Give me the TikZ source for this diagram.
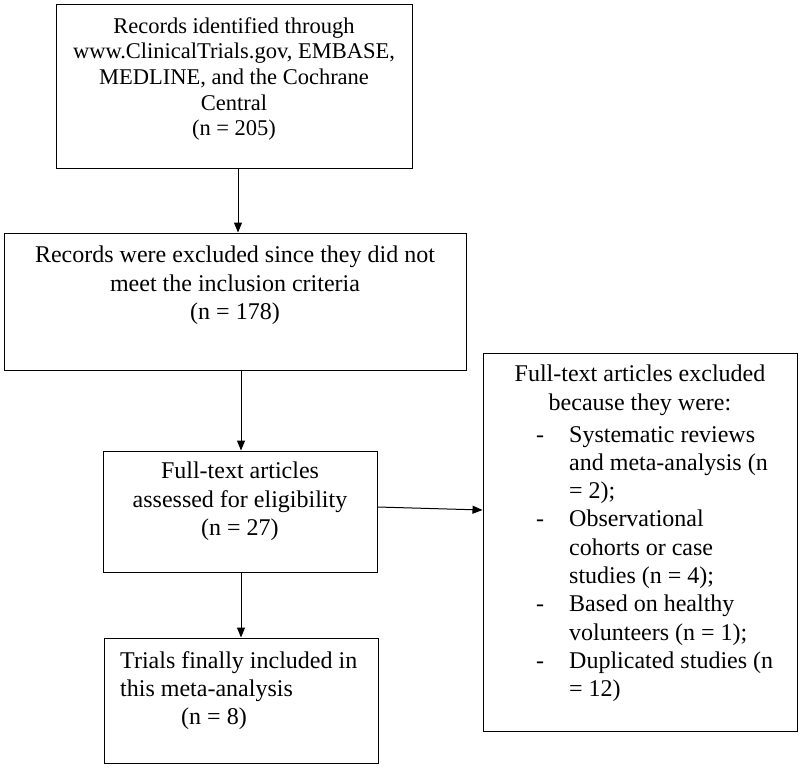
\documentclass[tikz,border=0pt]{standalone}
\usepackage{fontspec}
\setmainfont{Liberation Serif}
\usetikzlibrary{arrows.meta}
\begin{document}
\begin{tikzpicture}[x=1pt,y=-1pt,
  box/.style={draw,line width=1pt,inner sep=0pt},
  lbl/.style={align=center,inner sep=0pt,anchor=north,font=\fontsize{24}{28.5}\selectfont},
  arr/.style={-{Stealth[length=10pt,width=8pt,inset=0pt]},line width=1pt}]
\useasboundingbox (0,0) rectangle (800,769);
\node[box,minimum width=356pt,minimum height=164pt] (b1) at (234,86) {};
\node[lbl,font=\fontsize{22.5}{25.7}\selectfont] (t1) at (234,17) {Records identified through\\www.ClinicalTrials.gov, EMBASE,\\MEDLINE, and the Cochrane\\Central\\(n = 205)};
\node[box,minimum width=462pt,minimum height=137pt] (b2) at (235,301.5) {};
\node[lbl] (t2) at (235,246) {Records were excluded since they did not\\meet the inclusion criteria\\(n = 178)};
\node[box,minimum width=274pt,minimum height=121pt] (b3) at (240,511.5) {};
\node[lbl] (t3) at (240,462) {Full-text articles\\assessed for eligibility\\(n = 27)};
\node[box,minimum width=274pt,minimum height=125pt] (b4) at (241,700.5) {};
\node[lbl,align=left,anchor=north west] (t4) at (120,651) {Trials finally included in\\this meta-analysis};
\node[lbl] (t4b) at (214,708) {(n = 8)};
\node[box,minimum width=314pt,minimum height=378pt] (b5) at (640,542) {};
\node[lbl] (t5) at (640,365) {Full-text articles excluded\\because they were:};
\node[anchor=north west,font=\fontsize{24}{28.3}\selectfont,inner sep=0pt] (t5b) at (536,422) {%
\begin{tabular}{@{}p{33pt}@{}l@{}}
- & Systematic reviews\\
 & and meta-analysis (n\\
 & = 2);\\
- & Observational\\
 & cohorts or case\\
 & studies (n = 4);\\
- & Based on healthy\\
 & volunteers (n = 1);\\
- & Duplicated studies (n\\
 & = 12)
\end{tabular}};
\draw[arr] (b1.south -| 238,0) -- (b2.north -| 238,0);
\draw[arr] (b2.south -| 241,0) -- (b3.north -| 241,0);
\draw[arr] (b3.south -| 241,0) -- (b4.north -| 241,0);
\draw[arr] (b3.east |- 0,507) -- (b5.west |- 0,510);
\end{tikzpicture}
\end{document}
